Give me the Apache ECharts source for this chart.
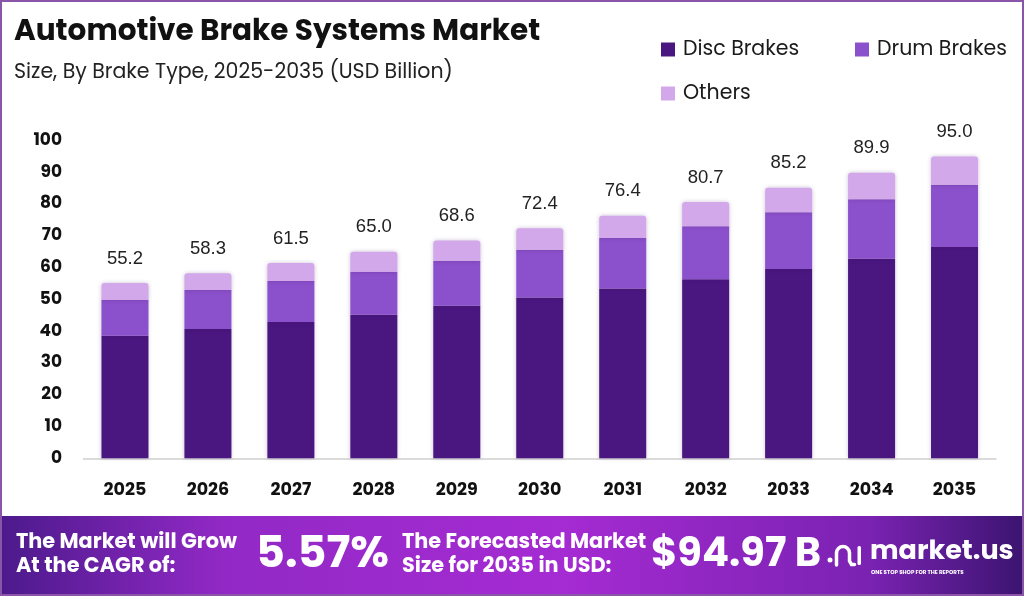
<!DOCTYPE html>
<html>
<head>
<meta charset="utf-8">
<script src="https://cdn.jsdelivr.net/npm/echarts@6/dist/echarts.min.js"></script>
<style>html,body{margin:0;padding:0;background:#fff;}#c{width:1024px;height:596px;}</style>
</head>
<body>
<div id="c"></div>
<script>
const years = ['2025','2026','2027','2028','2029','2030','2031','2032','2033','2034','2035'];
const discBrakes = [38.6, 40.7, 42.9, 45.2, 48.0, 50.6, 53.5, 56.4, 59.6, 62.8, 66.5];
const drumBrakes = [11.3, 12.3, 12.9, 13.5, 14.2, 15.1, 15.9, 16.7, 17.9, 18.8, 19.6];
const others = [5.3, 5.3, 5.7, 6.3, 6.4, 6.7, 7.0, 7.6, 7.7, 8.3, 8.9];
const totals = [55.2, 58.3, 61.5, 65.0, 68.6, 72.4, 76.4, 80.7, 85.2, 89.9, 95.0];
const yTicks = [0, 10, 20, 30, 40, 50, 60, 70, 80, 90, 100];

const FONT = 'Poppins, Inter, "Noto Sans", sans-serif';
const colors = { disc: '#4a167f', drum: '#8b50cb', others: '#d2a8ea' };
const chart = echarts.init(document.getElementById('c'), null, { renderer: 'canvas' });

const legendBase = {
  orient: 'horizontal', padding: 0, icon: 'rect', itemWidth: 14, itemHeight: 14,
  textStyle: { fontFamily: FONT, fontSize: 20.5, color: '#1a1a1a', lineHeight: 21, padding: [0, 0, 0, 3] }
};

const shadow = { shadowBlur: 4, shadowColor: 'rgba(60,20,90,0.25)' };
const bannerGradient = {
  type: 'linear', x: 0, y: 0, x2: 1, y2: 0, colorStops: [
    { offset: 0, color: '#4c1a8c' }, { offset: 0.22, color: '#9229c6' },
    { offset: 0.55, color: '#a52bd2' }, { offset: 0.85, color: '#7a22b2' },
    { offset: 1, color: '#3b1470' }]
};

chart.setOption({
  animation: false,
  backgroundColor: '#ffffff',
  title: [
    { text: 'Automotive Brake Systems Market', left: 14, top: 16, padding: 0,
      textStyle: { fontFamily: FONT, fontSize: 29.5, fontWeight: 'bold', color: '#111', lineHeight: 34 } },
    { text: 'Size, By Brake Type, 2025-2035 (USD Billion)', left: 14, top: 61, padding: 0,
      textStyle: { fontFamily: FONT, fontSize: 20.5, fontWeight: 'normal', color: '#222', lineHeight: 24 } }
  ],
  legend: [
    Object.assign({ data: ['Disc Brakes'], left: 661, top: 39 }, legendBase),
    Object.assign({ data: ['Drum Brakes'], left: 855, top: 39 }, legendBase),
    Object.assign({ data: ['Others'], left: 661, top: 83 }, legendBase)
  ],
  grid: { left: 83.5, right: 28, top: 140.7, bottom: 137.7, containLabel: false },
  xAxis: {
    type: 'category', data: years,
    axisLine: { show: true, lineStyle: { color: '#cfcfcf', width: 1.5 } },
    axisTick: { show: false },
    axisLabel: { fontFamily: FONT, fontSize: 17.5, fontWeight: 'bold', color: '#111', margin: 23 }
  },
  yAxis: {
    type: 'value', min: yTicks[0], max: yTicks[yTicks.length - 1], interval: 10,
    axisLine: { show: false }, axisTick: { show: false }, splitLine: { show: false },
    axisLabel: { fontFamily: FONT, fontSize: 17, fontWeight: 'bold', color: '#111', margin: 21.5 }
  },
  series: [
    { name: 'Disc Brakes', type: 'bar', stack: 'total', data: discBrakes, barWidth: 47,
      itemStyle: Object.assign({ color: colors.disc }, shadow) },
    { name: 'Drum Brakes', type: 'bar', stack: 'total', data: drumBrakes, barWidth: 47,
      itemStyle: Object.assign({ color: colors.drum }, shadow) },
    { name: 'Others', type: 'bar', stack: 'total', data: others, barWidth: 47,
      itemStyle: Object.assign({ color: colors.others, borderRadius: [3, 3, 0, 0] }, shadow),
      label: { show: true, position: 'top', distance: 15,
        fontFamily: '"Liberation Sans", Arial, sans-serif', fontSize: 18.5, color: '#222',
        formatter: p => totals[p.dataIndex].toFixed(1) } }
  ],
  graphic: [
    { type: 'rect', shape: { x: 0, y: 516, width: 1024, height: 80 }, z: 10,
      style: { fill: bannerGradient } },
    { type: 'text', x: 16, y: 543, z: 11, style: { text: 'The Market will Grow', fill: '#fff',
      font: 'bold 20.8px ' + FONT, verticalAlign: 'middle' } },
    { type: 'text', x: 16, y: 567, z: 11, style: { text: 'At the CAGR of:', fill: '#fff',
      font: 'bold 20.8px ' + FONT, verticalAlign: 'middle' } },
    { type: 'text', x: 256, y: 556, z: 11, style: { text: '5.57%', fill: '#fff',
      font: 'bold 44.5px ' + FONT, verticalAlign: 'middle',
      shadowBlur: 6, shadowColor: 'rgba(40,0,60,0.6)', shadowOffsetX: 2, shadowOffsetY: 2 } },
    { type: 'text', x: 402, y: 543, z: 11, style: { text: 'The Forecasted Market', fill: '#fff',
      font: 'bold 20.8px ' + FONT, verticalAlign: 'middle' } },
    { type: 'text', x: 402, y: 567, z: 11, style: { text: 'Size for 2035 in USD:', fill: '#fff',
      font: 'bold 20.8px ' + FONT, verticalAlign: 'middle' } },
    { type: 'text', x: 651, y: 556, z: 11, style: { text: '$94.97 B', fill: '#fff',
      font: 'bold 40px ' + FONT, verticalAlign: 'middle',
      shadowBlur: 6, shadowColor: 'rgba(40,0,60,0.6)', shadowOffsetX: 2, shadowOffsetY: 2 } },
    { type: 'circle', shape: { cx: 830, cy: 560, r: 2.5 }, z: 11, style: { fill: '#fff' } },
    { type: 'arc', shape: { cx: 843, cy: 553, r: 6.5, startAngle: Math.PI, endAngle: 0, clockwise: true }, z: 11,
      style: { stroke: '#fff', lineWidth: 3.5, fill: 'none' } },
    { type: 'polyline', shape: { points: [[836.5, 553], [836.5, 565]] }, z: 11,
      style: { stroke: '#fff', lineWidth: 3.5, lineCap: 'round' } },
    { type: 'polyline', shape: { points: [[849.5, 553], [849.5, 561], [851.5, 564.5], [854.5, 564.5]] }, z: 11,
      style: { stroke: '#fff', lineWidth: 3.5, lineCap: 'round', fill: 'none' } },
    { type: 'rect', shape: { x: 857.5, y: 546, width: 3.5, height: 19, r: 1.5 }, z: 11, style: { fill: '#fff' } },
    { type: 'text', x: 870, y: 552, z: 11, style: { text: 'market.us', fill: '#fff',
      font: 'bold 27px ' + FONT, verticalAlign: 'middle' } },
    { type: 'text', x: 871, y: 573, z: 11, style: { text: 'ONE STOP SHOP FOR THE REPORTS', fill: '#fff',
      font: 'bold 5.5px ' + FONT, verticalAlign: 'middle' } },
    { type: 'rect', shape: { x: 1, y: 1, width: 1022, height: 594 }, z: 12, silent: true,
      style: { fill: 'none', stroke: '#8a55a8', lineWidth: 2 } }
  ]
});
</script>
</body>
</html>
